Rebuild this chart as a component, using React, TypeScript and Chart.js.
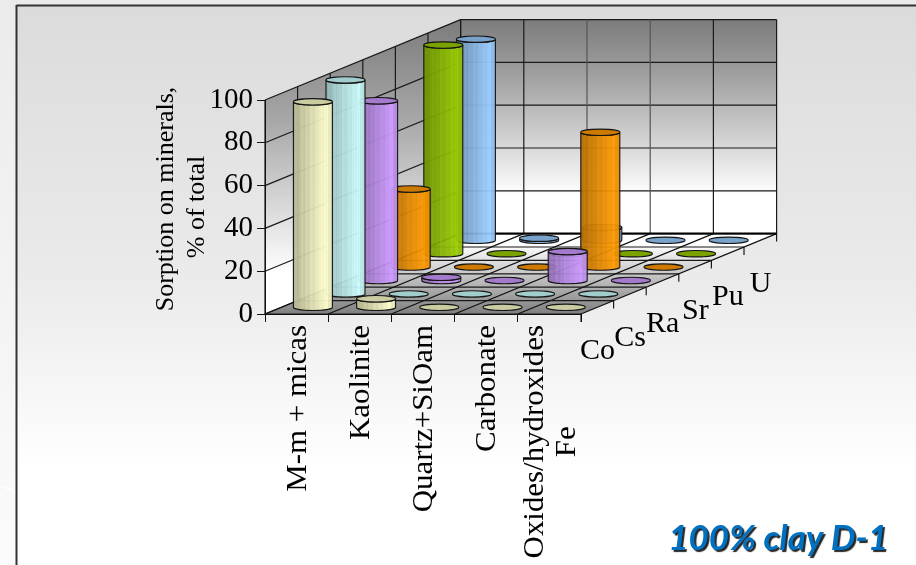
import React, { useEffect, useRef } from "react";
import { Chart, BarController, registerables } from "chart.js";

// Sorption of radionuclides on clay minerals, percent of total per nuclide.
const minerals = ["M-m + micas", "Kaolinite", "Quartz+SiOam", "Carbonate", "Oxides/hydroxides|Fe"];
const nuclides = ["Co", "Cs", "Ra", "Sr", "Pu", "U"];
const coValues = [96, 4, 0, 0, 0];
const csValues = [100, 0, 0, 0, 0];
const raValues = [84, 1.5, 0, 13.5, 0];
const srValues = [36.5, 0, 0, 63, 0];
const puValues = [97.5, 0, 0, 0, 0];
const uValues = [94, 1, 6, 0, 0];
const seriesValues = [coValues, csValues, raValues, srValues, puValues, uValues];
const seriesColors = ["#FFFFCC", "#CCFFFF", "#CC99FF", "#FF9900", "#99CC00", "#99CCFF"];
const valueTitle = ["Sorption on minerals,", "% of total"];
const caption = "100% clay D-1";

// Oblique projection: screen offset of one step along the depth axis.
const DEPTH_X = 32.6;
const DEPTH_Y = -13.4;
const RADIUS_X = 19.5;
const RADIUS_Y = 3.2;
const SERIF = '"Liberation Serif", serif';
// Category names are set slightly long along their reading direction.
const TEXT_STRETCH = 1.03;
// The cylinder surface is shaded in narrow vertical facets.
const FACETS = 24;

function shade(hex: string, f: number) {
  const n = parseInt(hex.slice(1), 16);
  const c = [(n >> 16) & 255, (n >> 8) & 255, n & 255].map((v) => Math.round(Math.min(255, v * f)));
  return `rgb(${c[0]},${c[1]},${c[2]})`;
}

function facetShade(k: number) {
  const t = k / (FACETS - 1);
  const ramp = t < 0.85 ? 0.72 + (t / 0.85) * 0.28 : 1 - ((t - 0.85) / 0.15) * 0.1;
  return ramp + (k % 3 === 0 ? -0.025 : k % 5 === 0 ? 0.025 : 0);
}

// Bar controller that paints each value as an upright cylinder standing on the floor grid.
class CylinderController extends BarController {
  static id = "cylinder3d";
  static defaults = BarController.defaults;
  static overrides = BarController.overrides;

  draw() {
    const meta = this.getMeta() as any;
    const ctx = this.chart.ctx;
    const row = this.index;
    const values = this.getDataset().data as number[];
    const color = this.getDataset().backgroundColor as string;
    const ox = (row + 0.5) * DEPTH_X;
    const oy = (row + 0.5) * DEPTH_Y;
    values.forEach((v, i) => {
      const cx = meta.xScale.getPixelForValue(i) + ox;
      const base = meta.yScale.getPixelForValue(0) + oy;
      const top = meta.yScale.getPixelForValue(v) + oy;
      ctx.save();
      ctx.strokeStyle = "#151515";
      ctx.lineWidth = 1.1;
      if (v > 0) {
        const g = ctx.createLinearGradient(cx - RADIUS_X, 0, cx + RADIUS_X, 0);
        for (let k = 0; k < FACETS; k++) {
          g.addColorStop(k / FACETS, shade(color, facetShade(k)));
          g.addColorStop((k + 1) / FACETS, shade(color, facetShade(k)));
        }
        ctx.globalAlpha = 0.94;
        ctx.fillStyle = g;
        ctx.beginPath();
        ctx.moveTo(cx - RADIUS_X, top);
        ctx.lineTo(cx - RADIUS_X, base);
        ctx.ellipse(cx, base, RADIUS_X, RADIUS_Y, 0, Math.PI, 0, true);
        ctx.lineTo(cx + RADIUS_X, top);
        ctx.ellipse(cx, top, RADIUS_X, RADIUS_Y, 0, 0, Math.PI, false);
        ctx.closePath();
        ctx.fill();
        ctx.globalAlpha = 1;
        ctx.stroke();
      }
      ctx.fillStyle = shade(color, 0.8);
      ctx.beginPath();
      ctx.ellipse(cx, top, RADIUS_X, RADIUS_Y, 0, 0, Math.PI * 2);
      ctx.fill();
      ctx.stroke();
      ctx.restore();
    });
  }
}

Chart.register(...registerables, CylinderController as any);

function line(ctx: CanvasRenderingContext2D, x1: number, y1: number, x2: number, y2: number) {
  ctx.beginPath();
  ctx.moveTo(x1, y1);
  ctx.lineTo(x2, y2);
  ctx.stroke();
}

function polygon(ctx: CanvasRenderingContext2D, pts: number[][], fill: CanvasGradient | string) {
  ctx.fillStyle = fill;
  ctx.beginPath();
  pts.forEach(([x, y], i) => (i ? ctx.lineTo(x, y) : ctx.moveTo(x, y)));
  ctx.closePath();
  ctx.fill();
}

// Slide backdrop, back wall, side wall and floor with their grids.
const roomPlugin = {
  id: "room",
  beforeDraw(chart: any) {
    const { ctx, width, height } = chart;
    const { x, y } = chart.scales;
    const rows = nuclides.length;
    const cols = minerals.length;
    const left = x.left;
    const right = x.right;
    const floor = y.getPixelForValue(0);
    const ceil = y.getPixelForValue(100);
    const sx = rows * DEPTH_X;
    const sy = rows * DEPTH_Y;
    ctx.save();

    const outer = ctx.createLinearGradient(0, 0, 0, height);
    outer.addColorStop(0, "#ebebeb");
    outer.addColorStop(1, "#fbfbfb");
    ctx.fillStyle = outer;
    ctx.fillRect(0, 0, width, height);
    const inner = ctx.createLinearGradient(0, 6, 0, 470);
    inner.addColorStop(0, "#dbdbdb");
    inner.addColorStop(0.6, "#ebebeb");
    inner.addColorStop(1, "#ffffff");
    ctx.fillStyle = inner;
    ctx.fillRect(17, 6, width - 17, height - 6);
    ctx.strokeStyle = "rgba(255,255,255,0.8)";
    ctx.lineWidth = 2;
    line(ctx, 0, 486, 15, 491);
    ctx.strokeStyle = "#333333";
    ctx.lineWidth = 2;
    line(ctx, 16.5, 5.5, width, 5.5);
    line(ctx, 16.5, 5, 16.5, height);

    const wall = ctx.createLinearGradient(0, ceil + sy, 0, floor + sy - 38);
    wall.addColorStop(0, "#7c7c7c");
    wall.addColorStop(0.35, "#a4a4a4");
    wall.addColorStop(1, "#ffffff");
    polygon(ctx, [[left + sx, ceil + sy], [right + sx, ceil + sy], [right + sx, floor + sy], [left + sx, floor + sy]], wall);
    const side = ctx.createLinearGradient(0, ceil + sy, 0, floor - 40);
    side.addColorStop(0, "#7c7c7c");
    side.addColorStop(0.4, "#a8a8a8");
    side.addColorStop(1, "#ffffff");
    polygon(ctx, [[left, ceil], [left, floor], [left + sx, floor + sy], [left + sx, ceil + sy]], side);
    const ground = ctx.createLinearGradient(0, floor + sy + 10, 0, floor);
    ground.addColorStop(0, "#ffffff");
    ground.addColorStop(1, "#7f7f7f");
    polygon(ctx, [[left, floor], [right, floor], [right + sx, floor + sy], [left + sx, floor + sy]], ground);

    ctx.lineWidth = 1.2;
    ctx.strokeStyle = "#1a1a1a";
    const levels = [0, 20, 40, 60, 80, 100];
    levels.forEach((v) => {
      const py = y.getPixelForValue(v);
      line(ctx, left, py, left + sx, py + sy);
      line(ctx, left + sx, py + sy, right + sx, py + sy);
    });
    for (let r = 0; r <= rows; r++) {
      const dx = r * DEPTH_X;
      const dy = r * DEPTH_Y;
      line(ctx, left + dx, floor + dy, left + dx, ceil + dy);
      line(ctx, left + dx, floor + dy, right + dx, floor + dy);
      line(ctx, right + dx, floor + dy, right + dx, floor + dy + 8);
    }
    for (let c = 0; c <= cols; c++) {
      const px = left + ((right - left) * c) / cols;
      ctx.strokeStyle = c >= 2 && c <= 3 ? "#555555" : "#1a1a1a";
      line(ctx, px + sx, floor + sy, px + sx, ceil + sy);
      ctx.strokeStyle = "#111111";
      line(ctx, px, floor, px + sx, floor + sy);
    }
    ctx.strokeStyle = "#000000";
    ctx.lineWidth = 2;
    line(ctx, left + sx, floor + sy, right + sx, floor + sy);
    ctx.restore();
  },
};

// Rotated category names, depth names, value-axis title and the caption.
const labelPlugin = {
  id: "labels",
  afterDraw(chart: any) {
    const { ctx } = chart;
    const { x, y } = chart.scales;
    const floor = y.getPixelForValue(0);
    const right = x.right;
    ctx.save();
    ctx.fillStyle = "#000000";

    ctx.font = `30px ${SERIF}`;
    minerals.forEach((name, i) => {
      const parts = name.split("|");
      const px = x.getPixelForValue(i);
      const longest = Math.max(...parts.map((p) => ctx.measureText(p).width));
      parts.forEach((part, k) => {
        const lineX = parts.length > 1 ? -6 + k * 32 : 9;
        ctx.save();
        ctx.translate(px + lineX, floor + 11 + (longest * TEXT_STRETCH) / 2);
        ctx.scale(1, TEXT_STRETCH);
        ctx.rotate(-Math.PI / 2);
        ctx.textAlign = "center";
        ctx.textBaseline = "alphabetic";
        ctx.fillText(part, 0, 0);
        ctx.restore();
      });
    });

    ctx.textAlign = "center";
    nuclides.forEach((name, r) => {
      ctx.fillText(name, right + 16.5 + r * DEPTH_X, floor + 45 + r * DEPTH_Y);
    });

    ctx.font = `26px ${SERIF}`;
    const titleX = [173, 204];
    const titleY = [199, 207];
    valueTitle.forEach((text, k) => {
      ctx.save();
      ctx.translate(titleX[k], titleY[k]);
      ctx.rotate(-Math.PI / 2);
      ctx.fillText(text, 0, 0);
      ctx.restore();
    });

    ctx.save();
    ctx.font = 'italic bold 35px Lato, "Open Sans", sans-serif';
    ctx.textAlign = "right";
    ctx.fillStyle = "#0070C0";
    ctx.shadowColor = "rgba(0,0,0,0.85)";
    ctx.shadowOffsetX = 2;
    ctx.shadowOffsetY = 2;
    ctx.shadowBlur = 1;
    ctx.fillText(caption, 888, 550);
    ctx.restore();
    ctx.restore();
  },
};

export default function App() {
  const ref = useRef<HTMLCanvasElement | null>(null);
  useEffect(() => {
    const chart = new Chart(ref.current as HTMLCanvasElement, {
      type: "cylinder3d" as any,
      data: {
        labels: minerals,
        datasets: nuclides.map((name, i) => ({
          label: name,
          data: seriesValues[i],
          backgroundColor: seriesColors[i],
          clip: false as any,
        })),
      },
      plugins: [roomPlugin, labelPlugin],
      options: {
        responsive: false,
        animation: false,
        layout: { padding: { left: 0, right: 335, top: 100, bottom: 251 } },
        plugins: { legend: { display: false }, tooltip: { enabled: false } },
        scales: {
          x: {
            type: "category",
            offset: true,
            afterFit: (s: any) => {
              s.height = 0;
            },
            ticks: { display: false, autoSkip: false },
            grid: { drawOnChartArea: false, tickLength: 8, color: "#111111", offset: true },
            border: { color: "#111111" },
          },
          y: {
            type: "linear",
            min: 0,
            max: 100,
            afterFit: (s: any) => {
              s.width = 265;
            },
            ticks: { stepSize: 20, color: "#000000", padding: 4, font: { family: "Liberation Serif", size: 29 } },
            grid: { drawOnChartArea: false, tickLength: 8, color: "#111111" },
            border: { color: "#111111" },
          },
        },
      } as any,
    } as any);
    return () => chart.destroy();
  }, []);
  return (
    <div style={{ position: "fixed", left: 0, top: 0, width: 916, height: 565 }}>
      <canvas ref={ref} width={916} height={565} style={{ display: "block" }} />
    </div>
  );
}
